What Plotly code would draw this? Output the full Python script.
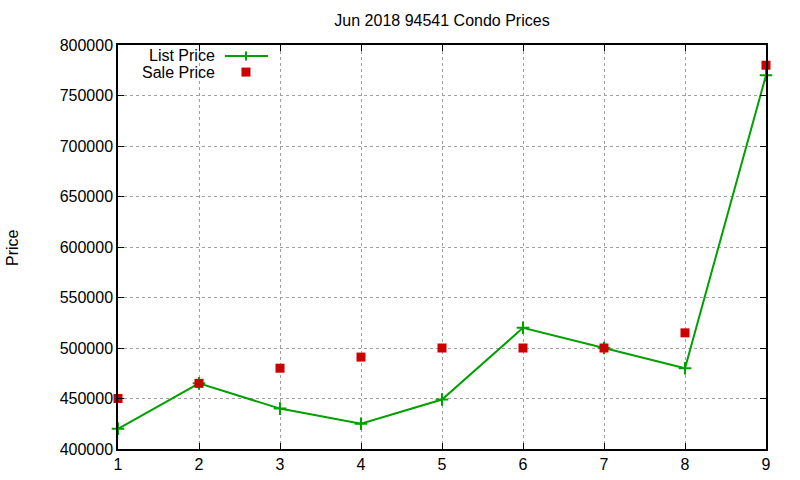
import plotly.graph_objects as go

# data
month = [1, 2, 3, 4, 5, 6, 7, 8, 9]
list_price = [420000, 465000, 440000, 425000, 449000, 520000, 500000, 480000, 770000]
sale_price = [450000, 465000, 480000, 491000, 500000, 500000, 500000, 515000, 780000]
y_ticks = [400000, 450000, 500000, 550000, 600000, 650000, 700000, 750000, 800000]

GREEN = "#00a000"
RED = "#cc0000"
FONT = "Liberation Sans, Arial, sans-serif"

fig = go.Figure()

fig.add_trace(go.Scatter(x=month, y=list_price, name="List Price",
                         mode="lines+markers",
                         line=dict(color=GREEN, width=2),
                         marker=dict(symbol="cross-thin", size=9,
                                     line=dict(color=GREEN, width=2)),
                         cliponaxis=False))

fig.add_trace(go.Scatter(x=month, y=sale_price, name="Sale Price",
                         mode="markers",
                         marker=dict(symbol="square", size=9, color=RED),
                         cliponaxis=False))

### gnuplot style key: text left of the sample
key_x = 0.153
key_sample = (0.165, 0.2315)
key_mid = 0.1975
key_y = [0.9728, 0.933]

for lbl, ky in zip(["List Price", "Sale Price"], key_y):
    fig.add_annotation(x=key_x, y=ky, xref="paper", yref="paper",
                       text=lbl, showarrow=False, xanchor="right",
                       yanchor="middle",
                       font=dict(size=16, color="black", family=FONT))

fig.add_shape(type="line", xref="paper", yref="paper",
              x0=key_sample[0], x1=key_sample[1], y0=key_y[0], y1=key_y[0],
              line=dict(color=GREEN, width=2))
fig.add_shape(type="line", xref="paper", yref="paper",
              xsizemode="pixel", ysizemode="pixel",
              xanchor=key_mid, yanchor=key_y[0],
              x0=0, x1=0, y0=-4.5, y1=4.5,
              line=dict(color=GREEN, width=2))
fig.add_shape(type="rect", xref="paper", yref="paper",
              xsizemode="pixel", ysizemode="pixel",
              xanchor=key_mid, yanchor=key_y[1],
              x0=-4.5, x1=4.5, y0=-4.5, y1=4.5,
              fillcolor=RED, line=dict(width=0))

# y axis label, gnuplot puts it well left of the tick labels
fig.add_annotation(x=-0.1636, y=0.5, xref="paper", yref="paper",
                   text="Price", showarrow=False, textangle=-90,
                   xanchor="center", yanchor="middle",
                   font=dict(size=16, color="black", family=FONT))

axis_style = dict(showline=True, linecolor="black", linewidth=1.5,
                  mirror="ticks", ticks="inside", ticklen=6,
                  tickcolor="black", showgrid=True, gridcolor="#a0a0a0",
                  griddash="dot", gridwidth=1, zeroline=False,
                  automargin=False,
                  tickfont=dict(size=16, color="black", family=FONT))

fig.update_layout(
    width=800, height=480,
    plot_bgcolor="white", paper_bgcolor="white",
    showlegend=False,
    title=dict(text="Jun 2018 94541 Condo Prices", x=0.5525, xanchor="center",
               y=0.958, yanchor="middle",
               font=dict(size=16, color="black", family=FONT)),
    xaxis=dict(range=[1, 9], tickvals=month, **axis_style),
    yaxis=dict(range=[400000, 800000], tickvals=y_ticks, tickformat="d",
               **axis_style),
    margin=dict(l=118, r=34, t=45, b=31),
)

# drop the default page margin so the figure sits at the window corner
fig.write_html("out.html", config={"displayModeBar": False},
               post_script="document.body.style.margin='0';")
